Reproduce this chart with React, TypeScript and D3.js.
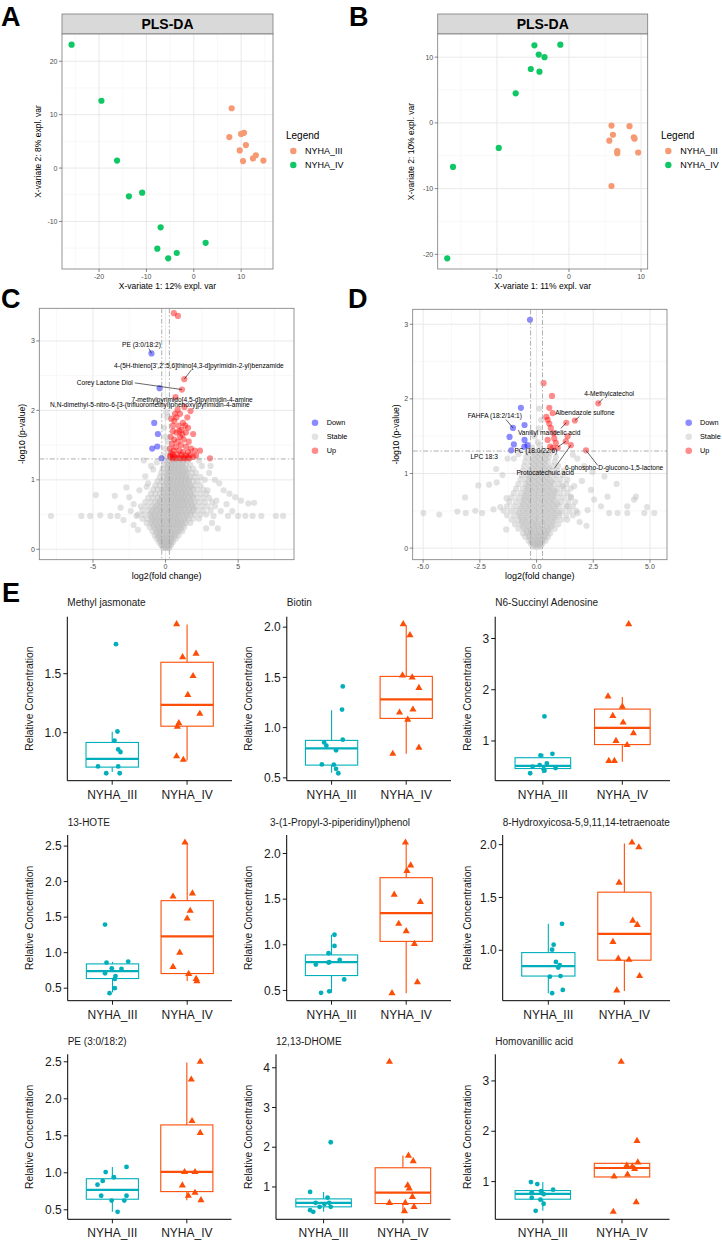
import React from "react";
import * as d3 from "d3";

const FONT = "'Liberation Sans', Arial, Helvetica, sans-serif";

/* ---------------- A / B : PLS-DA score plots ---------------- */
const PLS_GROUPS = ["NYHA_III", "NYHA_IV"];
const PLS_COLORS = ["#F69A73", "#10C765"];
const A_III_X = [8.0, 7.5, 10.0, 10.6, 11.0, 9.7, 10.4, 12.5, 13.1, 14.7];
const A_III_Y = [11.2, 5.8, 6.4, 6.6, 4.3, 3.3, 1.3, 1.8, 2.4, 1.4];
const A_IV_X = [-25.8, -19.5, -16.2, -13.7, -10.9, -7.0, -7.7, -3.6, -5.4, 2.5];
const A_IV_Y = [23.1, 12.6, 1.4, -5.3, -4.6, -11.1, -15.1, -15.9, -16.9, -14.0];
const B_III_X = [5.9, 8.4, 6.1, 5.6, 9.0, 9.1, 6.7, 6.7, 9.6, 5.9];
const B_III_Y = [-0.4, -0.5, -1.8, -2.7, -2.2, -2.4, -4.3, -4.6, -4.5, -9.6];
const B_IV_X = [-16.1, -9.75, -7.4, -5.3, -4.1, -4.8, -4.2, -3.4, -1.2, -16.9];
const B_IV_Y = [-6.7, -3.8, 4.5, 8.2, 7.8, 11.8, 10.4, 10.0, 11.9, -20.6];
const A_X_TICKS = [-20, -10, 0, 10];
const A_Y_TICKS = [-10, 0, 10, 20];
const B_X_TICKS = [-10, 0, 10];
const B_Y_TICKS = [-20, -10, 0, 10];

/* ---------------- C / D : volcano plots ---------------- */
const VOLC_CLASSES = ["Down", "Stable", "Up"];
const VOLC_COLORS = ["#0000FF", "#BEBEBE", "#FF0000"];
const FC_CUT = 0.263;
const P_CUT = 1.301;
const C_X_TICKS = [-5, 0, 5];
const C_Y_TICKS = [0, 1, 2, 3];
const D_X_TICKS = [-5, -2.5, 0, 2.5, 5];
const D_Y_TICKS = [0, 1, 2, 3];

const C_STABLE_ROWS = [
  "0.02:-0.15,0,0.12,0.25",
  "0.06:-0.3,-0.1,0.05,0.2,0.38",
  "0.10:-0.45,-0.25,-0.05,0.1,0.3,0.5",
  "0.15:-0.6,-0.35,-0.15,0.05,0.25,0.45,0.7",
  "0.20:-0.75,-0.5,-0.25,0,0.2,0.4,0.65,0.9",
  "0.26:-0.9,-0.6,-0.35,-0.1,0.15,0.4,0.65,0.9,1.15",
  "0.32:-1.1,-0.8,-0.5,-0.25,0,0.25,0.5,0.75,1.0,1.3",
  "0.38:-1.3,-1.0,-0.7,-0.4,-0.15,0.1,0.35,0.6,0.85,1.1,1.4,1.7",
  "0.44:-1.6,-1.25,-0.9,-0.6,-0.3,0,0.25,0.5,0.75,1.0,1.3,1.6,1.9,2.3",
  "0.50:-1.9,-1.5,-1.1,-0.8,-0.5,-0.2,0.1,0.35,0.6,0.85,1.1,1.4,1.7,2.0,2.4,2.8",
  "0.56:-1.6,-1.2,-0.9,-0.6,-0.3,0,0.25,0.5,0.75,1.0,1.3,1.6,1.9,2.2,2.6,3.1",
  "0.62:-1.7,-1.3,-0.95,-0.65,-0.35,-0.05,0.2,0.45,0.7,0.95,1.2,1.5,1.8,2.1,2.5,2.9,3.4",
  "0.68:-1.4,-1.0,-0.7,-0.4,-0.1,0.15,0.4,0.65,0.9,1.15,1.4,1.7,2.0,2.3,2.7,3.2",
  "0.74:-1.2,-0.85,-0.55,-0.25,0.05,0.3,0.55,0.8,1.05,1.3,1.6,1.9,2.2,2.6,3.0",
  "0.80:-1.0,-0.7,-0.4,-0.1,0.15,0.4,0.65,0.9,1.15,1.4,1.7,2.0,2.4,2.8",
  "0.86:-0.85,-0.55,-0.25,0.05,0.3,0.55,0.8,1.05,1.3,1.6,1.9,2.2,2.6",
  "0.92:-0.7,-0.4,-0.1,0.15,0.4,0.65,0.9,1.15,1.4,1.7,2.0,2.4",
  "0.98:-0.55,-0.25,0.05,0.3,0.55,0.8,1.05,1.3,1.6,1.9,2.2",
  "1.04:-0.4,-0.1,0.15,0.4,0.65,0.9,1.15,1.4,1.7,2.0,2.4",
  "1.10:-0.3,0,0.25,0.5,0.75,1.0,1.25,1.5,1.8,2.1",
  "1.16:-0.2,0.1,0.35,0.6,0.85,1.1,1.35,1.6,1.9",
  "1.22:-0.1,0.15,0.4,0.65,0.9,1.15,1.4,1.7",
  "1.28:0,0.25,0.5,0.75,1.0,1.25,1.5",
];
const C_STABLE_CORE = [
  "0.04:-0.2,-0.05,0.1,0.22",
  "0.08:-0.2,0,0.15,0.3",
  "0.12:-0.35,-0.15,0,0.2,0.4",
  "0.17:-0.45,-0.2,0,0.15,0.35,0.55",
  "0.23:-0.6,-0.4,-0.15,0.05,0.3,0.5,0.75",
  "0.29:-0.7,-0.45,-0.2,0.05,0.3,0.55,0.8,1.05",
  "0.35:-0.85,-0.6,-0.3,-0.05,0.2,0.45,0.7,0.95,1.2",
  "0.41:-0.95,-0.7,-0.45,-0.2,0.05,0.3,0.55,0.8,1.05,1.3",
  "0.47:-1.0,-0.75,-0.45,-0.15,0.15,0.4,0.65,0.9,1.2,1.5",
  "0.53:-1.0,-0.7,-0.4,-0.1,0.15,0.4,0.65,0.9,1.15,1.45,1.75",
  "0.59:-0.8,-0.5,-0.2,0.1,0.35,0.6,0.85,1.1,1.35,1.65,1.95",
  "0.65:-0.55,-0.25,0.05,0.3,0.55,0.8,1.05,1.3,1.55,1.85",
  "0.71:-0.4,-0.1,0.2,0.45,0.7,0.95,1.2,1.45,1.75",
  "0.77:-0.25,0.05,0.3,0.55,0.8,1.05,1.3,1.55,1.85",
  "0.83:-0.15,0.15,0.4,0.65,0.9,1.15,1.4,1.7",
  "0.89:-0.05,0.25,0.5,0.75,1.0,1.25,1.5,1.8",
  "0.95:0.05,0.3,0.55,0.8,1.05,1.3,1.6",
  "1.01:0.1,0.35,0.6,0.85,1.1,1.35,1.6",
  "1.07:0.1,0.35,0.6,0.85,1.1,1.4",
  "1.13:0.15,0.4,0.65,0.9,1.15,1.4",
  "1.19:0.2,0.45,0.7,0.95,1.2",
  "1.25:0.2,0.45,0.7,0.95,1.2",
];
const C_STABLE_SPARSE = [
  [-7.9, 0.48], [-5.8, 0.48], [-5.2, 0.48], [-4.8, 0.78], [-4.5, 0.49], [-3.8, 0.48], [-3.5, 0.77],
  [-3.3, 0.48], [-3.1, 0.6], [-2.7, 0.89], [-2.5, 0.75], [-2.4, 0.55], [-2.2, 0.65], [-2.0, 0.48],
  [-1.8, 0.85], [-1.5, 1.28], [-1.4, 1.05], [-1.3, 0.9], [-1.2, 0.95], [-1.0, 1.2], [-0.85, 1.15],
  [-0.6, 1.25], [-2.9, 0.42], [-2.2, 0.35], [-1.9, 0.28],
  [0.05, 1.97], [0.1, 1.9], [-0.1, 1.75], [0.15, 1.55], [-0.05, 1.45], [0.2, 1.4], [-0.15, 1.35], [0.0, 1.62],
  [2.3, 1.28], [2.5, 1.2], [3.1, 1.2], [2.7, 1.0], [3.0, 1.1], [3.4, 1.0], [3.7, 0.95], [2.9, 0.85],
  [4.0, 0.85], [4.4, 0.8], [4.8, 0.75], [3.5, 0.7], [5.2, 0.7], [5.7, 0.66], [6.1, 0.67], [4.2, 0.65],
  [3.8, 0.55], [4.6, 0.55], [3.3, 0.48], [4.3, 0.48], [5.0, 0.48], [5.5, 0.48], [6.0, 0.48], [6.6, 0.48],
  [7.6, 0.48], [8.1, 0.48], [3.2, 0.38], [3.6, 0.3], [2.8, 0.3],
];
const C_DOWN = [
  [-0.97, 2.82], [-0.41, 2.32], [-0.78, 1.82], [-0.53, 1.66], [-0.57, 1.48], [-0.92, 1.45], [-0.28, 1.31],
];
const C_UP = [
  [0.57, 3.4], [0.85, 3.36], [1.29, 2.45], [1.13, 2.3], [0.69, 2.19], [1.72, 1.99], [0.83, 2.01], [0.4, 1.88],
  [1.0, 1.95], [1.3, 2.05], [0.6, 1.85], [1.5, 1.9], [1.2, 1.82], [1.35, 1.78], [0.9, 1.78], [1.55, 1.75],
  [1.1, 1.72], [0.5, 1.7], [0.75, 1.68], [1.4, 1.68], [1.9, 1.66], [1.0, 1.62], [0.35, 1.62], [0.6, 1.58],
  [1.25, 1.58], [1.6, 1.55], [0.85, 1.55], [0.45, 1.52], [1.05, 1.5], [1.4, 1.48], [0.7, 1.47], [1.75, 1.45],
  [0.3, 1.45], [2.37, 1.42], [2.0, 1.42], [0.55, 1.42], [0.95, 1.42], [1.2, 1.4], [1.55, 1.4], [0.4, 1.38],
  [0.8, 1.37], [1.1, 1.36], [1.4, 1.35], [1.7, 1.36], [2.1, 1.35], [0.35, 1.33], [0.6, 1.33], [0.9, 1.32],
  [1.25, 1.32], [1.55, 1.32], [1.9, 1.33], [3.06, 1.31], [0.45, 1.31], [1.05, 1.31], [0.7, 1.31], [1.35, 1.31],
  [0.3, 1.34], [0.5, 1.36], [1.65, 1.31], [0.65, 1.95], [0.95, 1.7], [1.15, 1.65], [0.5, 1.78], [0.75, 1.9],
];
const C_LABELS = [
  { text: "PE (3:0/18:2)", lx: -1.66, ly: 2.94, sx: -1.15, sy: 2.89, px: -0.97, py: 2.82 },
  { text: "4-(5H-thieno[3',2':5,6]thino[4,3-d]pyrimidin-2-yl)benzamide", lx: 2.3, ly: 2.645, sx: 1.78, sy: 2.584, px: 1.29, py: 2.45 },
  { text: "Corey Lactone Diol", lx: -4.19, ly: 2.403, sx: -2.12, sy: 2.396, px: 1.13, py: 2.3 },
  { text: "7-methylpyrimido[4,5-d]pyrimidin-4-amine", lx: 1.83, ly: 2.157, sx: null, sy: null, px: 0, py: 0 },
  { text: "N,N-dimethyl-5-nitro-6-[3-(trifluoromethyl)phenoxy]pyrimidin-4-amine", lx: -1.08, ly: 2.081, sx: null, sy: null, px: 0, py: 0 },
];

const D_STABLE_ROWS = [
  "0.02:-0.15,0,0.15",
  "0.06:-0.25,-0.08,0.08,0.25",
  "0.10:-0.35,-0.15,0.05,0.25,0.4",
  "0.15:-0.5,-0.3,-0.1,0.1,0.3,0.5",
  "0.20:-0.6,-0.4,-0.2,0,0.2,0.4,0.6",
  "0.26:-0.8,-0.55,-0.3,-0.1,0.1,0.3,0.55,0.8",
  "0.32:-0.95,-0.7,-0.45,-0.2,0,0.2,0.45,0.7,0.95",
  "0.38:-1.1,-0.85,-0.6,-0.35,-0.1,0.1,0.35,0.6,0.85,1.1,1.35",
  "0.44:-1.3,-1.0,-0.75,-0.5,-0.25,0,0.25,0.5,0.75,1.0,1.3,1.6",
  "0.50:-1.45,-1.15,-0.9,-0.6,-0.35,-0.1,0.15,0.4,0.65,0.9,1.15,1.45,1.75",
  "0.56:-1.3,-1.0,-0.75,-0.5,-0.25,0,0.25,0.5,0.75,1.0,1.3,1.6",
  "0.62:-1.2,-0.9,-0.65,-0.4,-0.15,0.1,0.35,0.6,0.85,1.1,1.4,1.7",
  "0.68:-1.1,-0.8,-0.55,-0.3,-0.05,0.2,0.45,0.7,0.95,1.2,1.5",
  "0.74:-1.0,-0.7,-0.45,-0.2,0.05,0.3,0.55,0.8,1.05,1.35",
  "0.80:-0.9,-0.6,-0.35,-0.1,0.15,0.4,0.65,0.9,1.2,1.5",
  "0.86:-0.8,-0.5,-0.25,0,0.25,0.5,0.75,1.0,1.3",
  "0.92:-0.7,-0.45,-0.2,0.05,0.3,0.55,0.8,1.05,1.35",
  "0.98:-0.65,-0.4,-0.15,0.1,0.35,0.6,0.85,1.15",
  "1.04:-0.6,-0.35,-0.1,0.15,0.4,0.65,0.9,1.2",
  "1.10:-0.55,-0.3,-0.05,0.2,0.45,0.7,0.95",
  "1.16:-0.5,-0.25,0,0.25,0.5,0.8",
  "1.22:-0.45,-0.2,0.05,0.3,0.55,0.85",
  "1.28:-0.4,-0.15,0.1,0.35,0.6",
];
const D_STABLE_CORE = [
  "0.04:-0.1,0.05,0.18",
  "0.08:-0.18,0,0.15",
  "0.12:-0.25,-0.05,0.15,0.3",
  "0.17:-0.35,-0.15,0.05,0.2,0.4",
  "0.23:-0.45,-0.25,-0.05,0.15,0.35,0.5",
  "0.29:-0.6,-0.35,-0.15,0.05,0.25,0.45,0.65",
  "0.35:-0.65,-0.45,-0.2,0,0.25,0.45,0.7",
  "0.41:-0.7,-0.45,-0.2,0.05,0.3,0.55,0.8",
  "0.47:-0.75,-0.5,-0.25,0,0.25,0.5,0.75,1.0",
  "0.53:-0.7,-0.45,-0.2,0.05,0.3,0.55,0.8",
  "0.59:-0.6,-0.35,-0.1,0.15,0.4,0.65,0.9",
  "0.65:-0.55,-0.3,-0.05,0.2,0.45,0.7",
  "0.71:-0.5,-0.25,0,0.25,0.5,0.75",
  "0.77:-0.45,-0.2,0.05,0.3,0.55,0.8",
  "0.83:-0.4,-0.15,0.1,0.35,0.6",
  "0.89:-0.35,-0.1,0.15,0.4,0.65",
  "0.95:-0.3,-0.05,0.2,0.45",
  "1.01:-0.25,0,0.25,0.5",
  "1.07:-0.2,0.05,0.3,0.55",
  "1.13:-0.15,0.1,0.35",
  "1.19:-0.1,0.15,0.4",
  "1.25:-0.05,0.2,0.45",
];
const D_STABLE_SPARSE = [
  [-4.99, 0.47], [-4.29, 0.45], [-3.49, 0.49], [-3.12, 0.47], [-3.15, 0.68], [-2.57, 0.84], [-2.09, 0.85],
  [-1.76, 0.88], [-1.78, 1.06], [-1.32, 0.67], [-2.4, 0.47], [-1.9, 0.52], [-1.6, 0.55], [-1.34, 0.25],
  [-1.5, 0.98], [-1.28, 1.2], [-1.0, 1.2], [-0.8, 1.26], [-2.7, 0.5],
  [0.12, 1.87], [0.2, 1.72], [-0.1, 1.5], [0.05, 1.42], [-0.2, 1.35], [0.15, 1.38], [0.1, 1.6],
  [2.47, 1.02], [2.99, 0.96], [3.53, 0.86], [3.13, 0.69], [2.54, 0.65], [2.4, 0.78], [4.0, 0.56],
  [4.3, 0.65], [4.38, 0.69], [3.57, 0.47], [3.2, 0.47], [4.0, 0.47], [4.75, 0.47], [4.87, 0.55],
  [5.19, 0.47], [2.84, 0.56], [2.25, 0.51], [1.81, 0.47], [1.37, 0.56], [1.51, 0.69], [1.15, 0.83],
  [1.66, 0.83], [2.1, 1.1], [1.8, 1.2], [1.6, 1.25], [2.0, 0.9], [2.2, 0.3], [1.9, 0.35],
];
const D_DOWN = [
  [-0.29, 3.06], [-0.69, 1.88], [-0.53, 1.65], [-1.04, 1.61], [-1.19, 1.49], [-1.0, 1.39], [-0.53, 1.45],
  [-0.54, 1.36], [-0.4, 1.38], [-1.12, 1.31],
];
const D_UP = [
  [0.31, 2.21], [0.68, 2.04], [0.56, 1.88], [2.72, 1.94], [1.69, 1.71], [1.31, 1.68], [0.43, 1.76],
  [0.49, 1.72], [0.71, 1.81], [0.56, 1.67], [0.63, 1.61], [0.75, 1.54], [0.78, 1.47], [0.49, 1.45],
  [0.6, 1.36], [0.85, 1.41], [1.37, 1.5], [1.29, 1.43], [0.71, 1.34], [0.93, 1.34], [1.51, 1.38], [2.18, 1.31],
];
const D_LABELS = [
  { text: "4-Methylcatechol", lx: 3.2, ly: 2.066, sx: 2.92, sy: 1.999, px: 2.72, py: 1.94 },
  { text: "Albendazole sulfone", lx: 2.13, ly: 1.821, sx: 1.89, sy: 1.764, px: 1.69, py: 1.71 },
  { text: "FAHFA (18:2/14:1)", lx: -1.84, ly: 1.775, sx: -1.35, sy: 1.724, px: -1.04, py: 1.61 },
  { text: "Vanillyl mandelic acid", lx: 0.556, ly: 1.553, sx: 1.07, sy: 1.604, px: 1.31, py: 1.68 },
  { text: "LPC 18:3", lx: -2.31, ly: 1.226, sx: null, sy: null, px: 0, py: 0 },
  { text: "PC (18:0/22:6)", lx: -0.03, ly: 1.303, sx: 0.94, sy: 1.356, px: 1.29, py: 1.43 },
  { text: "6-phospho-D-glucono-1,5-lactone", lx: 3.42, ly: 1.071, sx: 2.7, sy: 1.108, px: 2.18, py: 1.31 },
  { text: "Protocatechuic acid", lx: 0.38, ly: 1.004, sx: 0.785, sy: 1.068, px: 1.51, py: 1.38 },
];

/* ---------------- E : box plots ---------------- */
const E_GROUPS = ["NYHA_III", "NYHA_IV"];
const E_COLORS = ["#00AFBB", "#FC4E07"];
const E_NAMES = [
  "Methyl jasmonate", "Biotin", "N6-Succinyl Adenosine",
  "13-HOTE", "3-(1-Propyl-3-piperidinyl)phenol", "8-Hydroxyicosa-5,9,11,14-tetraenoate",
  "PE (3:0/18:2)", "12,13-DHOME", "Homovanillic acid",
];
const E_Y_TICKS = [
  [1.0, 1.5], [0.5, 1.0, 1.5, 2.0], [1, 2, 3],
  [0.5, 1.0, 1.5, 2.0, 2.5], [0.5, 1.0, 1.5, 2.0], [1.0, 1.5, 2.0],
  [0.5, 1.0, 1.5, 2.0, 2.5], [1, 2, 3, 4], [1, 2, 3],
];
const E_TICK_DECIMALS = [1, 1, 0, 1, 1, 1, 1, 0, 0];
// [whisker low, Q1, median, Q3, whisker high]
const E_III_BOX = [
  [0.667, 0.708, 0.778, 0.917, 1.008],
  [0.552, 0.627, 0.794, 0.873, 1.173],
  [0.37, 0.462, 0.513, 0.673, 0.75],
  [0.44, 0.636, 0.739, 0.842, 0.87],
  [0.474, 0.663, 0.809, 0.889, 1.11],
  [0.594, 0.756, 0.85, 0.978, 1.25],
  [0.473, 0.643, 0.768, 0.92, 1.08],
  [0.375, 0.5, 0.6, 0.7, 0.875],
  [0.42, 0.65, 0.756, 0.822, 0.99],
];
const E_IV_BOX = [
  [0.763, 1.055, 1.236, 1.597, 1.917],
  [0.739, 1.092, 1.281, 1.51, 2.02],
  [0.596, 0.929, 1.256, 1.622, 1.86],
  [0.6, 0.706, 1.23, 1.732, 2.55],
  [0.47, 1.037, 1.346, 1.735, 2.12],
  [0.615, 0.906, 1.156, 1.55, 2.01],
  [0.63, 0.746, 1.013, 1.647, 2.49],
  [0.39, 0.583, 0.858, 1.483, 1.79],
  [1.092, 1.092, 1.27, 1.363, 1.38],
];
const E_III_Y = [
  [1.75, 1.01, 0.933, 0.858, 0.836, 0.714, 0.714, 0.656, 0.656],
  [1.41, 1.18, 0.88, 0.853, 0.82, 0.775, 0.634, 0.631, 0.59, 0.546],
  [1.48, 0.72, 0.75, 0.56, 0.53, 0.5, 0.45, 0.47, 0.37, 0.42],
  [1.395, 0.86, 0.875, 0.78, 0.77, 0.71, 0.67, 0.63, 0.5, 0.43],
  [1.11, 0.987, 0.907, 0.834, 0.783, 0.805, 0.81, 0.62, 0.49, 0.474],
  [1.25, 1.053, 1.006, 0.89, 0.86, 0.836, 0.75, 0.756, 0.625, 0.594],
  [1.08, 1.01, 0.94, 0.89, 0.84, 0.69, 0.69, 0.625, 0.625, 0.473],
  [2.125, 0.875, 0.733, 0.6, 0.6, 0.5, 0.417, 0.375, 0.5, 0.57],
  [0.99, 0.95, 0.84, 0.79, 0.75, 0.81, 0.68, 0.64, 0.56, 0.42],
];
const E_III_JIT = [
  [0.05, 0.07, 0.03, 0.08, 0.11, -0.19, 0.08, -0.08, 0.1],
  [0.15, 0.14, 0.15, -0.1, -0.07, 0.06, -0.13, 0.03, 0.06, 0.09],
  [0.02, -0.03, 0.12, 0.05, -0.04, -0.13, 0.01, 0.16, -0.16, 0.02],
  [-0.1, -0.08, 0.21, -0.01, 0.12, -0.1, 0.04, 0.03, 0.03, -0.04],
  [0.04, 0.04, -0.04, 0.11, -0.21, -0.04, -0.03, 0.17, -0.03, -0.14],
  [0.18, 0.07, 0.05, 0.1, 0.15, 0.13, 0.02, 0.16, 0.19, 0.05],
  [0.19, -0.09, 0.02, -0.13, -0.2, -0.15, 0.19, -0.01, 0.16, 0.07],
  [0.09, -0.17, 0.05, -0.1, 0.07, 0.09, -0.17, -0.13, -0.05, 0.01],
  [-0.15, -0.07, 0.13, -0.14, 0.01, -0.02, -0.14, -0.03, 0.01, -0.09],
];
const E_IV_Y = [
  [1.92, 1.64, 1.67, 1.48, 1.32, 1.16, 1.08, 1.05, 0.8, 0.77],
  [2.03, 1.92, 1.52, 1.5, 1.395, 1.15, 1.18, 1.08, 0.74, 0.8],
  [3.28, 1.87, 1.67, 1.49, 1.36, 1.15, 1.0, 0.92, 0.61, 0.61],
  [2.55, 1.835, 1.79, 1.59, 1.48, 1.0, 0.8, 0.7, 0.63, 0.6],
  [2.12, 1.87, 1.81, 1.55, 1.47, 1.23, 1.15, 1.01, 0.59, 0.47],
  [2.02, 1.975, 1.64, 1.28, 1.24, 1.08, 0.92, 0.91, 0.756, 0.62],
  [2.5, 2.26, 1.7, 1.54, 1.01, 1.01, 0.83, 0.73, 0.69, 0.63],
  [4.15, 1.79, 1.65, 1.04, 0.96, 0.75, 0.6, 0.6, 0.5, 0.39],
  [3.38, 1.81, 1.38, 1.32, 1.3, 1.25, 1.14, 1.1, 0.59, 0.4],
];
const E_IV_JIT = [
  [-0.14, -0.06, 0.12, 0.08, 0.01, 0.17, -0.11, -0.13, -0.14, -0.05],
  [-0.04, 0.05, -0.05, 0.08, 0.17, -0.09, 0.09, 0.02, -0.18, 0.17],
  [0.08, -0.18, 0, -0.12, 0.01, 0.14, -0.08, 0.06, -0.17, -0.1],
  [-0.03, 0.07, -0.19, 0.04, 0, -0.1, -0.19, 0.02, 0.12, 0.13],
  [-0.01, 0.06, 0.01, -0.16, 0.19, -0.1, 0, 0.11, 0.15, -0.19],
  [0.1, 0.19, -0.07, 0.11, 0.17, -0.15, -0.08, 0.06, 0.2, -0.1],
  [0.18, 0.06, 0.07, 0.18, -0.03, 0.11, -0.06, 0.11, 0.02, 0.19],
  [-0.17, 0.07, 0.13, 0.06, 0.08, 0.12, -0.17, 0.03, 0.14, 0.02],
  [-0.01, 0.19, 0.2, 0.06, 0.13, 0.16, 0.07, -0.1, 0.18, -0.11],
];

/* ---------------- layout ---------------- */
const E_LEFT = [67.3, 286.8, 495.2, 67.7, 286.7, 502.7, 67.7, 276, 495.3];
const E_RIGHT = [232, 451, 670, 232, 451, 670, 231.5, 450.5, 669.5];
const E_TITLE_DX = [0, 0, 0, 0, -16.7, 0, 0, 0, 0];
const E_ROW_TOP = [616.7, 835, 1054.3];
const E_ROW_BOTTOM = [780.7, 1000.7, 1219.3];
const E_ROW_TITLE = [606.3, 826, 1044.6];
const E_COL_YTITLE = [33, 252, 471];

function minors(ticks: number[], dom: number[]) {
  const s = ticks[1] - ticks[0];
  const c = [ticks[0] - s / 2, ...ticks.map((t) => t + s / 2)];
  return c.filter((v) => v > dom[0] && v < dom[1]);
}

function parseRows(rows: string[]) {
  const out: number[][] = [];
  rows.forEach((r) => {
    const [yy, xs] = r.split(":");
    xs.split(",").forEach((xv) => out.push([+xv, +yy]));
  });
  return out;
}

function PlsPanel(p: any) {
  const { id, left, right, stripTop, panelTop, bottom, xs, ys, xTicks, yTicks, xTitle, yTitle, yTitleX, legX, legDotX, legLabX } = p;
  const allX = xs[0].concat(xs[1]);
  const allY = ys[0].concat(ys[1]);
  const xe = d3.extent(allX) as number[];
  const ye = d3.extent(allY) as number[];
  const px = (xe[1] - xe[0]) * 0.05;
  const py = (ye[1] - ye[0]) * 0.05;
  const x = d3.scaleLinear().domain([xe[0] - px, xe[1] + px]).range([left, right]);
  const y = d3.scaleLinear().domain([ye[0] - py, ye[1] + py]).range([bottom, panelTop]);
  const xm = minors(xTicks, x.domain());
  const ym = minors(yTicks, y.domain());
  return (
    <g>
      <rect x={left} y={stripTop} width={right - left} height={panelTop - stripTop} fill="#D9D9D9" stroke="#7a7a7a" strokeWidth={0.8} />
      <text x={(left + right) / 2} y={(stripTop + panelTop) / 2 + 5} textAnchor="middle" fontWeight="bold" fontSize={14}>PLS-DA</text>
      <rect x={left} y={panelTop} width={right - left} height={bottom - panelTop} fill="#fff" />
      {xm.map((v: number) => <line key={"xm" + v} x1={x(v)} x2={x(v)} y1={panelTop} y2={bottom} stroke="#F3F3F3" strokeWidth={0.6} />)}
      {ym.map((v: number) => <line key={"ym" + v} x1={left} x2={right} y1={y(v)} y2={y(v)} stroke="#F3F3F3" strokeWidth={0.6} />)}
      {xTicks.map((v: number) => <line key={"xg" + v} x1={x(v)} x2={x(v)} y1={panelTop} y2={bottom} stroke="#E6E6E6" strokeWidth={0.9} />)}
      {yTicks.map((v: number) => <line key={"yg" + v} x1={left} x2={right} y1={y(v)} y2={y(v)} stroke="#E6E6E6" strokeWidth={0.9} />)}
      {[0, 1].map((g) => xs[g].map((v: number, i: number) => (
        <circle key={id + g + "_" + i} cx={x(v)} cy={y(ys[g][i])} r={3.1} fill={PLS_COLORS[g]} />
      )))}
      <rect x={left} y={panelTop} width={right - left} height={bottom - panelTop} fill="none" stroke="#7a7a7a" strokeWidth={0.8} />
      {xTicks.map((v: number) => (
        <g key={"xt" + v}>
          <line x1={x(v)} x2={x(v)} y1={bottom} y2={bottom + 3} stroke="#555" strokeWidth={0.7} />
          <text x={x(v)} y={bottom + 9.5} textAnchor="middle" fontSize={7} fill="#4D4D4D">{v}</text>
        </g>
      ))}
      {yTicks.map((v: number) => (
        <g key={"yt" + v}>
          <line x1={left - 3} x2={left} y1={y(v)} y2={y(v)} stroke="#555" strokeWidth={0.7} />
          <text x={left - 4.5} y={y(v) + 2.5} textAnchor="end" fontSize={7} fill="#4D4D4D">{v}</text>
        </g>
      ))}
      <text x={(left + right) / 2} y={bottom + 20} textAnchor="middle" fontSize={8.5}>{xTitle}</text>
      <text transform={`translate(${yTitleX},${(panelTop + bottom) / 2}) rotate(-90)`} textAnchor="middle" fontSize={8.5}>{yTitle}</text>
      <text x={legX} y={138.5} fontSize={10}>Legend</text>
      {PLS_GROUPS.map((g, i) => (
        <g key={g}>
          <circle cx={legDotX} cy={151 + i * 14} r={3.2} fill={PLS_COLORS[i]} />
          <text x={legLabX} y={154.2 + i * 14} fontSize={9}>{g}</text>
        </g>
      ))}
    </g>
  );
}

function Volcano(p: any) {
  const { id, left, right, top, bottom, xDom, yDom, xTicks, xFmt, yTicks, stable, down, up, labels, legDotX, legLabX, yTitleX } = p;
  const x = d3.scaleLinear().domain(xDom).range([left, right]);
  const y = d3.scaleLinear().domain(yDom).range([bottom, top]);
  const xm = minors(xTicks, xDom);
  const ym = minors(yTicks, yDom);
  const groups = [down, stable, up];
  const order = [1, 0, 2];
  const dash = "5,2,1.5,2";
  return (
    <g>
      <defs>
        <clipPath id={"clip" + id}><rect x={left} y={top} width={right - left} height={bottom - top} /></clipPath>
      </defs>
      <rect x={left} y={top} width={right - left} height={bottom - top} fill="#fff" />
      {xm.map((v: number) => <line key={"xm" + v} x1={x(v)} x2={x(v)} y1={top} y2={bottom} stroke="#F3F3F3" strokeWidth={0.6} />)}
      {ym.map((v: number) => <line key={"ym" + v} x1={left} x2={right} y1={y(v)} y2={y(v)} stroke="#F3F3F3" strokeWidth={0.6} />)}
      {xTicks.map((v: number) => <line key={"xg" + v} x1={x(v)} x2={x(v)} y1={top} y2={bottom} stroke="#E6E6E6" strokeWidth={0.9} />)}
      {yTicks.map((v: number) => <line key={"yg" + v} x1={left} x2={right} y1={y(v)} y2={y(v)} stroke="#E6E6E6" strokeWidth={0.9} />)}
      <g clipPath={`url(#clip${id})`}>
        {order.map((g) => groups[g].map((d: number[], i: number) => (
          <circle key={id + g + "_" + i} cx={x(d[0])} cy={y(d[1])} r={3.1} fill={VOLC_COLORS[g]} fillOpacity={0.45} />
        )))}
        <line x1={x(-FC_CUT)} x2={x(-FC_CUT)} y1={top} y2={bottom} stroke="#999" strokeWidth={0.8} strokeDasharray={dash} />
        <line x1={x(FC_CUT)} x2={x(FC_CUT)} y1={top} y2={bottom} stroke="#999" strokeWidth={0.8} strokeDasharray={dash} />
        <line x1={left} x2={right} y1={y(P_CUT)} y2={y(P_CUT)} stroke="#999" strokeWidth={0.8} strokeDasharray={dash} />
      </g>
      {labels.map((l: any, i: number) => (
        <g key={"lab" + i}>
          {l.sx !== null && <line x1={x(l.sx)} y1={y(l.sy)} x2={x(l.px)} y2={y(l.py)} stroke="#000" strokeWidth={0.6} />}
          <text x={x(l.lx)} y={y(l.ly) + 2.3} textAnchor="middle" fontSize={6.6} fill="#000">{l.text}</text>
        </g>
      ))}
      <rect x={left} y={top} width={right - left} height={bottom - top} fill="none" stroke="#7a7a7a" strokeWidth={0.8} />
      {xTicks.map((v: number) => (
        <g key={"xt" + v}>
          <line x1={x(v)} x2={x(v)} y1={bottom} y2={bottom + 3} stroke="#555" strokeWidth={0.7} />
          <text x={x(v)} y={bottom + 9} textAnchor="middle" fontSize={7} fill="#4D4D4D">{xFmt(v)}</text>
        </g>
      ))}
      {yTicks.map((v: number) => (
        <g key={"yt" + v}>
          <line x1={left - 3} x2={left} y1={y(v)} y2={y(v)} stroke="#555" strokeWidth={0.7} />
          <text x={left - 4.5} y={y(v) + 2.5} textAnchor="end" fontSize={7} fill="#4D4D4D">{v}</text>
        </g>
      ))}
      <text x={(left + right) / 2} y={bottom + 19.5} textAnchor="middle" fontSize={9}>log2(fold change)</text>
      <text transform={`translate(${yTitleX},${(top + bottom) / 2}) rotate(-90)`} textAnchor="middle" fontSize={8.6}>-log10 (p-value)</text>
      {VOLC_CLASSES.map((c, i) => (
        <g key={c}>
          <circle cx={legDotX} cy={422.7 + i * 14} r={3.3} fill={VOLC_COLORS[i]} fillOpacity={0.45} />
          <text x={legLabX} y={425.3 + i * 14} fontSize={7.3}>{c}</text>
        </g>
      ))}
    </g>
  );
}

function BoxPanel({ i }: { i: number }) {
  const row = Math.floor(i / 3);
  const col = i % 3;
  const left = E_LEFT[i];
  const right = E_RIGHT[i];
  const top = E_ROW_TOP[row];
  const bottom = E_ROW_BOTTOM[row];
  const boxes = [E_III_BOX[i], E_IV_BOX[i]];
  const pts = [E_III_Y[i], E_IV_Y[i]];
  const jit = [E_III_JIT[i], E_IV_JIT[i]];
  const all = [...pts[0], ...pts[1], ...boxes[0], ...boxes[1]];
  const ext = d3.extent(all) as number[];
  const pad = (ext[1] - ext[0]) * 0.05;
  const y = d3.scaleLinear().domain([ext[0] - pad, ext[1] + pad]).range([bottom, top]);
  const x = d3.scalePoint().domain(E_GROUPS).range([left, right]).padding(0.6);
  const step = x.step();
  const bw = step * 0.7;
  const tri = d3.symbol().type(d3.symbolTriangle).size(22)();
  return (
    <g>
      <text x={left + E_TITLE_DX[i]} y={E_ROW_TITLE[row]} fontSize={10} fill="#1a1a1a">{E_NAMES[i]}</text>
      {[0, 1].map((g) => {
        const cx = x(E_GROUPS[g]) as number;
        const b = boxes[g];
        const c = E_COLORS[g];
        return (
          <g key={"box" + g}>
            <line x1={cx} x2={cx} y1={y(b[3])} y2={y(b[4])} stroke={c} strokeWidth={1.1} />
            <line x1={cx} x2={cx} y1={y(b[0])} y2={y(b[1])} stroke={c} strokeWidth={1.1} />
            <rect x={cx - bw / 2} y={y(b[3])} width={bw} height={Math.max(0.5, y(b[1]) - y(b[3]))} fill="#fff" stroke={c} strokeWidth={1.1} />
            <line x1={cx - bw / 2} x2={cx + bw / 2} y1={y(b[2])} y2={y(b[2])} stroke={c} strokeWidth={2.2} />
          </g>
        );
      })}
      {pts[0].map((v, k) => (
        <circle key={"p0" + k} cx={(x(E_GROUPS[0]) as number) + jit[0][k] * step} cy={y(v)} r={2.4} fill={E_COLORS[0]} />
      ))}
      {pts[1].map((v, k) => (
        <path key={"p1" + k} d={tri as string} transform={`translate(${(x(E_GROUPS[1]) as number) + jit[1][k] * step},${y(v)})`} fill={E_COLORS[1]} />
      ))}
      <line x1={left} x2={left} y1={top} y2={bottom} stroke="#000" strokeWidth={1} />
      <line x1={left} x2={right} y1={bottom} y2={bottom} stroke="#000" strokeWidth={1} />
      {E_Y_TICKS[i].map((v) => (
        <g key={"yt" + v}>
          <line x1={left - 4} x2={left} y1={y(v)} y2={y(v)} stroke="#000" strokeWidth={0.9} />
          <text x={left - 6} y={y(v) + 4.2} textAnchor="end" fontSize={12} fill="#1a1a1a">{v.toFixed(E_TICK_DECIMALS[i])}</text>
        </g>
      ))}
      {E_GROUPS.map((g) => (
        <g key={"xt" + g}>
          <line x1={x(g) as number} x2={x(g) as number} y1={bottom} y2={bottom + 4} stroke="#000" strokeWidth={0.9} />
          <text x={x(g) as number} y={bottom + 17.8} textAnchor="middle" fontSize={12} fill="#1a1a1a">{g}</text>
        </g>
      ))}
      <text transform={`translate(${E_COL_YTITLE[col]},${(top + bottom) / 2}) rotate(-90)`} textAnchor="middle" fontSize={10.3} fill="#1a1a1a">Relative Concentration</text>
    </g>
  );
}

export default function App() {
  const cStable = parseRows(C_STABLE_ROWS).concat(parseRows(C_STABLE_CORE), C_STABLE_SPARSE);
  const dStable = parseRows(D_STABLE_ROWS).concat(parseRows(D_STABLE_CORE), D_STABLE_SPARSE);
  return (
    <svg width={722} height={1240} style={{ position: "absolute", left: 0, top: 0, background: "#fff" }} fontFamily={FONT}>
      <rect x={0} y={0} width={722} height={1240} fill="#fff" />
      <PlsPanel id="A" left={62} right={273} stripTop={14} panelTop={34} bottom={269}
        xs={[A_III_X, A_IV_X]} ys={[A_III_Y, A_IV_Y]} xTicks={A_X_TICKS} yTicks={A_Y_TICKS}
        xTitle="X-variate 1: 12% expl. var" yTitle="X-variate 2: 8% expl. var" yTitleX={41}
        legX={286} legDotX={293.3} legLabX={305} />
      <PlsPanel id="B" left={437.7} right={647.7} stripTop={14} panelTop={34} bottom={269}
        xs={[B_III_X, B_IV_X]} ys={[B_III_Y, B_IV_Y]} xTicks={B_X_TICKS} yTicks={B_Y_TICKS}
        xTitle="X-variate 1: 11% expl. var" yTitle="X-variate 2: 10% expl. var" yTitleX={414}
        legX={661} legDotX={668.3} legLabX={680.3} />
      <Volcano id="C" left={39.3} right={294} top={308.3} bottom={559.7} xDom={[-8.7, 8.85]} yDom={[-0.15, 3.47]}
        xTicks={C_X_TICKS} xFmt={(v: number) => String(v)} yTicks={C_Y_TICKS}
        stable={cStable} down={C_DOWN} up={C_UP} labels={C_LABELS} legDotX={315} legLabX={326.7} yTitleX={25} />
      <Volcano id="D" left={412.7} right={667} top={309.3} bottom={559.7} xDom={[-5.46, 5.75]} yDom={[-0.155, 3.2]}
        xTicks={D_X_TICKS} xFmt={(v: number) => v.toFixed(1)} yTicks={D_Y_TICKS}
        stable={dStable} down={D_DOWN} up={D_UP} labels={D_LABELS} legDotX={688.7} legLabX={700} yTitleX={398.7} />
      {E_NAMES.map((_, i) => <BoxPanel key={"e" + i} i={i} />)}
      <g fontWeight="bold" fontSize={27} fill="#000">
        <text x={1} y={26}>A</text>
        <text x={349} y={26}>B</text>
        <text x={1} y={308}>C</text>
        <text x={348} y={308}>D</text>
        <text x={2} y={602}>E</text>
      </g>
    </svg>
  );
}
